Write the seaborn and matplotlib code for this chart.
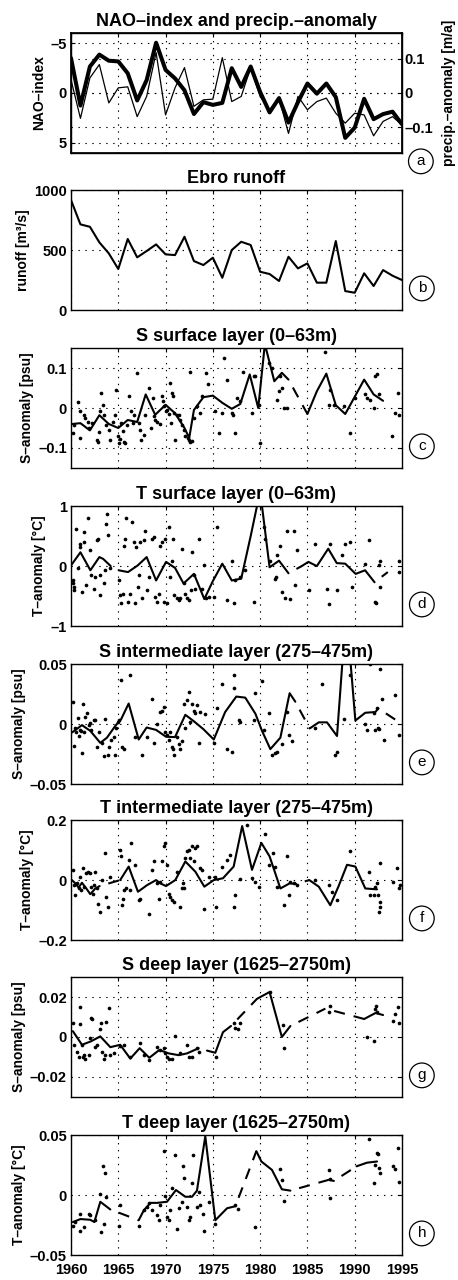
import numpy as np
import pandas as pd
import matplotlib
matplotlib.use("Agg")
import matplotlib.pyplot as plt
import seaborn as sns

# ---------------------------------------------------------------- data
years = list(range(1960, 1996))

nao_index = [-3.5, 1.26, -2.65, -3.84, -3.23, -3.16, -1.97, 0.75, -1.29, -5.03,
             -2.31, -1.46, -0.27, 2.10, 0.92, 1.19, 0.99, -2.48, -0.61, -2.65,
             -0.10, 1.94, 0.51, 2.96, 0.92, -0.95, 0.07, -0.95, 0.41, 4.49,
             3.47, 0.58, 2.62, 2.11, 1.87, 3.13]

precip_anomaly = [0.039, -0.074, 0.044, 0.083, -0.029, 0.015, 0.018, -0.069, -0.010, 0.118,
                  -0.064, 0.015, 0.074, -0.039, -0.020, -0.018, 0.103, -0.025, -0.010, 0.074,
                  -0.010, -0.049, -0.015, -0.118, -0.010, -0.049, -0.025, -0.015, -0.059, -0.088,
                  -0.059, -0.064, -0.125, -0.083, -0.069, -0.093]

ebro_runoff = [917, 714, 694, 564, 472, 342, 592, 439, 492, 547,
               464, 458, 611, 408, 375, 436, 269, 500, 569, 542,
               319, 300, 242, 444, 347, 389, 228, 228, 575, 158,
               144, 306, 200, 333, 286, 250]

# layer means (time, value); NaN value = no data, no connection
s_surf_mean = [(1960.1, -0.040), (1961.0, -0.038), (1962.0, -0.056), (1963.0, -0.018),
               (1964.0, -0.040), (1965.0, -0.050), (1966.0, -0.030), (1967.0, -0.035),
               (1967.9, 0.034), (1968.9, -0.017), (1970.0, 0.008), (1971.0, -0.013),
               (1972.0, -0.050), (1972.5, -0.075), (1973.0, -0.005), (1974.0, 0.027),
               (1975.0, 0.031), (1976.0, 0.013), (1977.0, -0.002), (1977.9, 0.010),
               (1978.9, 0.084), (1979.8, 0.000), (1980.5, 0.160), (1981.5, 0.067),
               (1982.3, 0.088), (1983.0, 0.071), (1985.0, -0.015), (1986.0, 0.042),
               (1987.0, 0.086), (1988.0, 0.007), (1989.0, -0.015), (1990.0, 0.028),
               (1991.0, 0.071), (1992.0, 0.034), (1993.0, 0.018)]

s_surf_obs = [(1960.2, -0.063), (1960.35, -0.042), (1960.74, 0.015), (1960.9, -0.008), (1961.0, -0.074),
              (1961.4, -0.017), (1961.5, -0.025), (1961.76, -0.036), (1961.87, -0.050), (1962.2, -0.038),
              (1962.75, -0.080), (1962.85, -0.084), (1963.0, -0.059), (1963.1, -0.008), (1963.2, 0.038),
              (1963.35, 0.008), (1963.5, -0.017), (1963.7, -0.042), (1964.0, -0.055), (1964.16, -0.080),
              (1964.4, -0.034), (1964.7, -0.017), (1964.8, 0.044), (1964.93, -0.071), (1965.04, -0.088),
              (1965.15, -0.077), (1965.3, -0.038), (1965.46, -0.057), (1965.64, -0.084), (1965.75, -0.088),
              (1965.92, -0.042), (1966.17, 0.029), (1966.38, -0.008), (1966.56, -0.038), (1966.7, -0.017),
              (1966.98, 0.088), (1967.16, -0.038), (1967.33, -0.055), (1967.44, -0.080), (1967.68, -0.067),
              (1967.86, -0.017), (1968.2, 0.050), (1968.46, -0.050), (1968.64, 0.025), (1968.74, -0.021),
              (1968.92, -0.029), (1969.1, -0.034), (1969.45, -0.040), (1969.62, 0.029), (1969.7, 0.017),
              (1969.8, 0.004), (1970.05, -0.008), (1970.15, -0.004), (1970.33, -0.015), (1970.5, 0.063),
              (1970.6, -0.038), (1970.68, 0.038), (1970.79, 0.029), (1970.86, -0.013), (1971.03, -0.080),
              (1971.2, -0.017), (1971.39, -0.017), (1971.56, -0.029), (1971.74, -0.042), (1971.9, -0.055),
              (1972.09, -0.071), (1972.34, -0.076), (1972.44, -0.080), (1972.55, 0.091), (1972.62, -0.084),
              (1972.8, -0.082), (1973.04, -0.025), (1973.32, 0.004), (1973.68, -0.013), (1973.85, 0.029),
              (1974.3, 0.088), (1974.45, 0.059), (1975.26, -0.008), (1975.6, -0.063), (1975.97, -0.013),
              (1976.2, 0.126), (1976.5, 0.071), (1977.03, -0.013), (1977.13, -0.017), (1977.3, -0.063),
              (1977.55, 0.025), (1977.9, 0.017), (1978.2, 0.090), (1979.14, -0.013), (1979.32, 0.080),
              (1979.5, 0.080), (1979.85, 0.007), (1980.02, -0.088), (1980.9, 0.113), (1981.25, 0.101),
              (1981.78, 0.021), (1981.96, 0.042), (1982.14, 0.080), (1982.3, 0.050), (1982.5, 0.000),
              (1982.84, 0.000), (1986.9, 0.140), (1987.25, 0.008), (1987.42, 0.044), (1987.78, 0.008),
              (1988.83, 0.004), (1989.54, -0.063), (1990.0, 0.025), (1991.12, 0.034), (1991.3, 0.025),
              (1991.65, 0.021), (1992.0, 0.000), (1992.18, 0.080), (1992.36, 0.084), (1992.53, 0.034),
              (1993.94, -0.071), (1994.3, -0.013), (1994.54, 0.038), (1994.65, -0.017)]

t_surf_mean = [(1960.0, 0.01), (1961.0, 0.23), (1962.05, -0.07), (1963.0, 0.15), (1963.4, 0.12),
               (1964.2, 0.0), (1964.6, np.nan), (1965.04, -0.07), (1966.03, -0.10), (1967.05, 0.01),
               (1968.0, 0.15), (1969.0, -0.24), (1970.05, 0.07), (1971.0, -0.03), (1971.9, -0.29),
               (1973.0, -0.13), (1974.1, -0.55), (1975.0, -0.25), (1976.0, 0.04), (1977.0, -0.24),
               (1978.0, -0.21), (1979.0, 0.50), (1980.0, 1.25), (1981.0, -0.02), (1982.0, 0.09),
               (1983.0, -0.12), (1984.4, 0.0), (1985.1, 0.07), (1986.0, 0.0), (1987.2, 0.29),
               (1988.1, 0.05), (1989.0, 0.04), (1990.1, -0.13), (1991.1, -0.07), (1992.1, -0.27),
               (1993.5, -0.10)]

t_surf_obs = [(1960.2, -0.24), (1960.2, -0.29), (1960.28, -0.35), (1960.35, -0.40), (1960.56, 0.62),
              (1960.74, -0.04), (1960.9, 0.31), (1961.0, 0.37), (1961.16, -0.43), (1961.34, 0.40),
              (1961.4, 0.56), (1961.6, -0.32), (1961.76, 0.81), (1962.0, 0.26), (1962.1, -0.15),
              (1962.4, -0.38), (1962.57, -0.18), (1962.75, 0.43), (1962.85, 0.45), (1963.03, -0.49),
              (1963.1, -0.15), (1963.5, -0.29), (1963.6, -0.07), (1963.7, 0.70), (1963.8, 0.87),
              (1963.9, 0.51), (1964.1, -0.04), (1965.04, -0.24), (1965.15, -0.49), (1965.3, -0.62),
              (1965.46, -0.46), (1965.64, 0.34), (1965.75, 0.45), (1965.85, 0.81), (1966.03, -0.60),
              (1966.27, -0.46), (1966.45, 0.73), (1966.63, 0.40), (1966.8, -0.62), (1966.9, 0.31),
              (1967.05, -0.35), (1967.16, -0.15), (1967.33, 0.40), (1967.5, -0.54), (1967.68, 0.43),
              (1967.8, 0.59), (1968.0, -0.40), (1968.2, -0.18), (1968.56, 0.45), (1968.74, 0.48),
              (1968.92, -0.51), (1969.1, -0.60), (1969.27, -0.46), (1969.45, 0.34), (1969.62, 0.40),
              (1969.8, -0.60), (1969.97, 0.45), (1970.15, -0.62), (1970.33, 0.66), (1970.5, -0.18),
              (1970.68, 0.09), (1970.79, 0.45), (1970.93, -0.49), (1971.2, -0.54), (1971.39, -0.57),
              (1971.56, -0.54), (1971.74, 0.29), (1971.9, -0.29), (1972.09, -0.46), (1972.27, -0.54),
              (1972.44, -0.57), (1972.7, -0.40), (1972.8, 0.24), (1973.0, -0.15), (1973.15, -0.38),
              (1973.5, 0.45), (1973.85, -0.38), (1974.1, 0.01), (1974.3, -0.54), (1974.56, -0.51),
              (1975.1, -0.51), (1975.44, 0.65), (1976.5, -0.57), (1977.03, 0.09), (1977.2, -0.62),
              (1977.38, -0.24), (1977.9, -0.18), (1978.43, -0.07), (1979.3, -0.60), (1980.37, 0.66),
              (1980.55, 0.45), (1981.08, 0.09), (1981.6, -0.21), (1981.7, -0.18), (1981.78, 0.18),
              (1982.14, 0.34), (1982.3, -0.43), (1982.66, -0.54), (1982.84, 0.59), (1983.2, -0.55),
              (1983.55, 0.58), (1983.72, -0.32), (1983.9, 0.26), (1985.13, -0.40), (1985.84, 0.37),
              (1987.07, -0.38), (1987.25, -0.64), (1987.42, 0.37), (1988.13, -0.40), (1988.66, 0.18),
              (1989.0, 0.37), (1989.54, 0.40), (1989.7, -0.35), (1991.12, 0.04), (1991.47, 0.43),
              (1992.18, -0.60), (1992.3, -0.62), (1992.53, 0.01), (1992.64, 0.09), (1992.7, -0.35),
              (1994.65, 0.09), (1994.72, -0.10)]

s_int_mean = [(1960.1, -0.0071), (1961.16, -0.0009), (1962.04, -0.0057), (1963.1, -0.0157),
              (1963.8, -0.0114), (1964.7, -0.0014), (1965.3, 0.0040), (1966.1, 0.0171),
              (1967.16, -0.0129), (1968.0, -0.0029), (1969.0, -0.0049), (1970.05, -0.0106),
              (1971.0, -0.0109), (1972.09, 0.0077), (1973.04, 0.0020), (1974.0, -0.0043),
              (1975.1, -0.0129), (1976.3, 0.0100), (1977.48, 0.0229), (1978.43, 0.0220),
              (1979.5, 0.0086), (1980.2, -0.0057), (1981.08, -0.0209), (1982.14, -0.0114),
              (1983.12, 0.0257), (1983.72, 0.0186), (1985.24, -0.0037), (1986.2, 0.0014),
              (1987.07, 0.0014), (1988.13, -0.0100), (1989.1, 0.095), (1990.07, 0.0029),
              (1991.12, 0.0094), (1992.18, 0.0100), (1992.5, 0.0130), (1995.0, 0.0)]

s_int_obs = [(1960.2, 0.0186), (1960.28, -0.0186), (1960.45, -0.003), (1960.56, -0.007), (1960.7, 0.005),
             (1960.8, -0.010), (1960.9, -0.005), (1961.05, -0.006), (1961.16, -0.024), (1961.27, 0.017),
             (1961.4, -0.007), (1961.5, 0.006), (1961.7, 0.009), (1961.87, -0.001), (1962.0, 0.001),
             (1962.1, -0.005), (1962.4, 0.003), (1962.57, 0.003), (1962.8, -0.019), (1963.0, -0.007),
             (1963.28, -0.016), (1963.45, -0.027), (1963.63, 0.004), (1963.9, -0.026), (1964.0, -0.019),
             (1964.23, -0.013), (1964.5, -0.011), (1964.7, -0.026), (1964.8, -0.003), (1964.93, 0.0014),
             (1965.1, 0.003), (1965.3, 0.037), (1965.4, -0.019), (1965.64, -0.021), (1966.27, 0.041),
             (1966.8, -0.011), (1967.5, -0.026), (1968.0, -0.011), (1968.56, 0.021), (1968.8, -0.016),
             (1969.1, 0.0), (1969.45, 0.010), (1969.62, 0.011), (1969.8, 0.014), (1969.97, -0.007),
             (1970.15, -0.009), (1970.33, -0.013), (1970.5, -0.007), (1970.68, -0.019), (1970.79, -0.021),
             (1970.93, -0.026), (1971.2, -0.011), (1971.39, -0.017), (1971.56, -0.021), (1971.74, -0.014),
             (1971.9, 0.017), (1972.09, -0.003), (1972.27, 0.020), (1972.44, 0.027), (1972.62, 0.0014),
             (1972.8, 0.017), (1972.97, 0.011), (1973.15, 0.009), (1973.32, 0.016), (1973.5, -0.016),
             (1973.68, 0.010), (1974.2, 0.008), (1975.1, -0.016), (1975.44, 0.013), (1975.97, 0.033),
             (1976.5, -0.021), (1977.03, -0.023), (1977.2, 0.041), (1977.27, 0.030), (1977.73, 0.003),
             (1977.9, 0.0014), (1979.32, 0.003), (1979.5, 0.026), (1980.2, 0.036), (1980.37, -0.005),
             (1980.9, 0.009), (1981.25, -0.026), (1981.6, -0.024), (1981.78, -0.023), (1982.3, -0.017),
             (1982.84, 0.010), (1983.0, -0.009), (1983.4, -0.014), (1985.84, -0.003), (1986.54, 0.033),
             (1987.95, -0.026), (1988.13, -0.023), (1988.83, 0.004), (1989.54, 0.041), (1991.12, 0.0),
             (1991.3, -0.005), (1991.58, 0.050), (1992.0, 0.009), (1992.18, -0.005), (1992.36, 0.013),
             (1992.46, -0.003), (1992.53, -0.004), (1992.64, 0.046), (1992.9, 0.021), (1993.06, -0.013),
             (1994.3, 0.024), (1994.65, -0.009)]

t_int_mean = [(1960.1, 0.0), (1960.46, -0.011), (1960.8, -0.025), (1961.16, -0.009), (1961.62, -0.028),
              (1962.04, -0.047), (1962.57, -0.028), (1963.03, -0.020), (1965.2, 0.0), (1966.1, 0.045),
              (1967.08, -0.039), (1968.04, -0.017), (1969.0, 0.0), (1969.45, -0.011), (1970.05, -0.020),
              (1971.03, 0.0), (1972.09, 0.062), (1973.15, 0.028), (1974.1, -0.022), (1975.1, 0.0),
              (1976.07, 0.006), (1977.2, 0.045), (1978.1, 0.180), (1979.14, 0.034), (1980.13, 0.124),
              (1981.0, 0.079), (1982.14, -0.028), (1983.12, -0.011), (1983.8, -0.013), (1985.2, 0.0),
              (1986.2, -0.022), (1987.42, -0.084), (1988.3, -0.020), (1989.19, 0.051), (1990.07, 0.045),
              (1991.12, -0.028), (1992.36, -0.031)]

t_int_obs = [(1960.2, 0.034), (1960.28, -0.017), (1960.46, -0.051), (1960.63, -0.011), (1960.8, -0.028),
             (1960.9, 0.011), (1961.05, -0.034), (1961.27, 0.039), (1961.4, -0.022), (1961.62, 0.022),
             (1961.76, 0.028), (1962.0, 0.022), (1962.1, -0.022), (1962.3, -0.045), (1962.47, -0.017),
             (1962.57, 0.028), (1962.75, -0.028), (1962.9, -0.079), (1963.1, -0.107), (1963.28, 0.0),
             (1963.63, 0.090), (1963.73, -0.056), (1963.9, -0.090), (1964.16, 0.009), (1965.2, 0.101),
             (1965.3, 0.079), (1965.4, -0.084), (1965.5, -0.062), (1965.64, -0.034), (1965.85, -0.028),
             (1966.1, 0.067), (1966.27, -0.034), (1966.34, 0.124), (1966.8, 0.051), (1967.16, -0.067),
             (1967.33, -0.062), (1968.2, -0.112), (1968.56, 0.034), (1968.8, 0.062), (1969.1, -0.011),
             (1969.27, -0.062), (1969.45, -0.006), (1969.62, 0.062), (1969.8, 0.112), (1969.97, 0.124),
             (1970.15, 0.051), (1970.33, -0.045), (1970.5, -0.056), (1970.68, -0.067), (1970.86, -0.073),
             (1971.2, 0.028), (1971.56, -0.090), (1971.74, -0.028), (1971.84, -0.011), (1971.9, -0.028),
             (1972.09, 0.073), (1972.27, 0.096), (1972.44, 0.101), (1972.62, 0.073), (1972.8, 0.112),
             (1972.97, 0.062), (1973.15, 0.107), (1973.32, 0.112), (1973.68, 0.039), (1973.85, 0.034),
             (1974.03, -0.096), (1974.56, 0.011), (1975.26, 0.011), (1975.37, -0.090), (1975.97, 0.045),
             (1976.5, 0.067), (1976.85, 0.084), (1977.2, -0.090), (1977.38, -0.051), (1977.9, 0.003),
             (1978.6, 0.182), (1979.14, 0.006), (1979.5, -0.006), (1979.85, -0.022), (1980.55, 0.152),
             (1980.9, 0.051), (1981.36, 0.090), (1981.6, 0.045), (1981.78, -0.022), (1982.5, -0.084),
             (1982.84, 0.079), (1983.0, -0.051), (1983.2, -0.006), (1983.55, -0.011), (1983.9, -0.017),
             (1985.84, 0.0), (1987.25, -0.017), (1987.6, -0.039), (1988.13, -0.067), (1989.54, 0.096),
             (1991.47, 0.028), (1991.65, -0.051), (1992.0, -0.051), (1992.18, -0.022), (1992.36, -0.011),
             (1992.43, -0.051), (1992.53, -0.107), (1992.64, -0.090), (1992.7, -0.073), (1992.7, 0.058),
             (1994.0, -0.006), (1994.45, 0.039), (1994.65, -0.028), (1994.75, -0.017)]

s_deep_mean = [(1960.2, 0.0029), (1961.16, -0.0039), (1962.1, -0.0022), (1963.1, 0.0003),
               (1964.16, -0.0051), (1965.2, -0.0039), (1966.27, -0.0108), (1967.26, -0.0056),
               (1968.28, -0.0104), (1969.34, -0.0065), (1970.33, -0.0082), (1971.39, -0.0091),
               (1972.27, -0.0082), (1973.5, -0.0056), (1973.9, np.nan), (1974.38, -0.0068),
               (1975.26, -0.0079), (1976.07, 0.0024), (1976.92, 0.0055), (1979.67, 0.0191),
               (1981.0, 0.0225), (1982.3, 0.0), (1983.2, 0.0055), (1986.9, 0.0142),
               (1991.0, 0.0090), (1992.2, 0.0120), (1993.0, 0.0110)]

s_deep_obs = [(1960.2, 0.0072), (1960.35, -0.0039), (1960.63, -0.0074), (1960.8, -0.0099), (1960.9, 0.0063),
              (1961.0, 0.0149), (1961.16, -0.0039), (1961.27, -0.0099), (1961.4, -0.0091), (1961.5, -0.0108),
              (1961.87, -0.0091), (1962.0, -0.0005), (1962.1, 0.0097), (1962.2, 0.0089), (1962.57, -0.0051),
              (1962.75, -0.0039), (1963.1, 0.0038), (1963.2, 0.0072), (1963.28, -0.0074), (1963.45, -0.0108),
              (1963.56, -0.0091), (1963.73, 0.0077), (1964.0, 0.0144), (1964.16, -0.0091), (1964.5, -0.0082),
              (1965.2, -0.0044), (1965.57, -0.0039), (1966.27, -0.0099), (1967.26, -0.0031), (1967.7, -0.0091),
              (1968.2, -0.0116), (1969.1, -0.0048), (1969.38, -0.0065), (1969.8, -0.0056), (1969.97, -0.0082),
              (1970.15, -0.0099), (1970.33, -0.0108), (1970.68, -0.0108), (1971.03, 0.0007), (1971.56, -0.0082),
              (1972.27, -0.0039), (1972.44, -0.0099), (1972.8, -0.0099), (1973.32, -0.0056), (1973.5, -0.0074),
              (1975.37, -0.0099), (1977.2, 0.0072), (1977.38, 0.0046), (1977.62, 0.0038), (1977.83, 0.0072),
              (1981.0, 0.0226), (1982.4, 0.0058), (1982.5, -0.0056), (1987.25, 0.0123), (1987.35, 0.0157),
              (1991.3, 0.0), (1992.0, -0.0022), (1992.18, 0.0140), (1992.3, 0.0157), (1992.36, 0.0126),
              (1994.1, 0.0080), (1994.3, 0.0114), (1994.54, 0.0149), (1994.65, 0.0072)]

t_deep_mean = [(1960.2, -0.0225), (1961.0, -0.0200), (1962.04, -0.0206), (1962.47, -0.0225),
               (1963.1, -0.0056), (1964.16, -0.0120), (1967.16, -0.0210), (1967.7, -0.0127),
               (1968.4, -0.0065), (1969.1, -0.0065), (1970.15, -0.0056), (1971.1, 0.0042),
               (1972.09, -0.0014), (1972.8, -0.0014), (1973.32, 0.0037), (1974.2, 0.0490),
               (1975.26, -0.0210), (1976.5, -0.0110), (1977.38, -0.0093), (1979.6, 0.0366),
               (1980.13, 0.0280), (1981.25, 0.0210), (1982.3, 0.0048), (1983.2, 0.0037),
               (1987.25, 0.0127), (1987.8, 0.0118), (1990.2, 0.0240), (1991.3, 0.0270),
               (1992.36, 0.0280)]

t_deep_obs = [(1960.2, -0.026), (1960.46, -0.0225), (1960.9, -0.030), (1961.0, -0.016), (1961.34, -0.027),
              (1961.87, -0.016), (1962.0, -0.017), (1962.57, -0.021), (1963.1, 0.0008), (1963.2, -0.031),
              (1963.38, 0.024), (1963.5, -0.024), (1963.63, 0.018), (1963.73, -0.002), (1965.04, -0.026),
              (1965.2, -0.0085), (1967.16, -0.026), (1967.7, -0.0127), (1968.0, -0.0099), (1968.2, -0.0065),
              (1968.56, -0.0127), (1969.1, -0.017), (1969.27, -0.021), (1969.45, -0.0085), (1969.8, 0.0366),
              (1969.97, -0.0008), (1970.15, -0.0183), (1970.33, -0.021), (1970.43, -0.0127), (1970.68, 0.0056),
              (1971.03, 0.0338), (1971.2, -0.028), (1971.39, -0.0104), (1971.74, -0.0056), (1971.84, 0.024),
              (1971.98, 0.014), (1972.27, -0.0099), (1972.44, -0.021), (1972.62, -0.0183), (1972.8, 0.0099),
              (1972.9, 0.0338), (1973.32, -0.0099), (1973.5, 0.0028), (1973.68, -0.0085), (1973.96, -0.0155),
              (1974.1, -0.030), (1974.56, -0.0056), (1975.26, -0.024), (1977.38, -0.0085), (1977.62, -0.012),
              (1979.5, -0.027), (1982.05, 0.0217), (1982.3, 0.0127), (1982.5, -0.005), (1987.25, 0.0206),
              (1987.35, 0.0132), (1987.42, -0.0023), (1991.47, 0.047), (1992.07, 0.0099), (1992.18, 0.0254),
              (1992.36, 0.035), (1992.46, 0.0344), (1992.53, 0.0225), (1992.7, 0.0183), (1994.1, 0.024),
              (1994.3, 0.0217), (1994.54, 0.039), (1994.65, 0.011)]

x_ticks = [1960, 1965, 1970, 1975, 1980, 1985, 1990, 1995]
x_tick_labels = ["1960", "1965", "1970", "1975", "1980", "1985", "1990", "1995"]

# ---------------------------------------------------------------- style
sns.set_theme(style="white")
plt.rcParams.update({
    "font.family": ["Liberation Sans", "DejaVu Sans"],
    "font.weight": "bold",
    "axes.titleweight": "bold",
    "axes.labelweight": "bold",
    "axes.edgecolor": "black",
    "axes.labelcolor": "black",
    "text.color": "black",
    "xtick.color": "black",
    "ytick.color": "black",
    "lines.scale_dashes": False,
    "lines.solid_joinstyle": "round",
})

GAP_YEARS = 1.35          # longer gaps between means are bridged by a dashed line
DASH_ON, DASH_OFF = 8.0, 6.5
GRID_STYLE = (0, (1.0, 4.0))
TICK_SIZE = 10.5
LABEL_SIZE = 10
TITLE_SIZE = 13

fig = plt.figure(figsize=(4.58, 12.8), dpi=100)
LEFT, WIDTH, HEIGHT = 0.155, 0.7227, 0.0937
bottoms = [0.8805, 0.7578, 0.6344, 0.5109, 0.3875, 0.2656, 0.1430, 0.0195]
axes = [fig.add_axes([LEFT, b, WIDTH, HEIGHT]) for b in bottoms]


def style_axis(ax, ylim, yticks, ylabels, ylabel, title, show_x=False, right=True):
    ax.set_xlim(1960, 1995)
    ax.set_ylim(*ylim)
    ax.set_xticks(x_ticks)
    ax.set_xticklabels(x_tick_labels if show_x else [])
    ax.set_yticks(yticks)
    ax.set_yticklabels(ylabels)
    ax.grid(True, color="black", linestyle=GRID_STYLE, linewidth=0.8)
    ax.tick_params(direction="in", length=3, width=0.8, labelsize=TICK_SIZE,
                   top=True, right=right, pad=3)
    ax.tick_params(axis="x", pad=6)
    for sp in ax.spines.values():
        sp.set_linewidth(1.0)
        sp.set_color("black")
    ax.set_xlabel("")
    ax.set_ylabel(ylabel, fontsize=LABEL_SIZE, labelpad=3)
    ax.set_title(title, fontsize=TITLE_SIZE, pad=5)


def circle_tag(ax, letter, x=1.06, y=0.18):
    ax.text(x, y, letter, transform=ax.transAxes, ha="center", va="center",
            fontsize=11, fontweight="normal", clip_on=False,
            bbox=dict(boxstyle="circle,pad=0.35", fc="white", ec="black", lw=0.9))


def split_segments(pairs):
    solid, dashed = [], []
    run_id, dash_id, prev = 0, 0, None
    for t, v in pairs:
        if np.isnan(v):
            prev, run_id = None, run_id + 1
            continue
        if prev is not None and t - prev[0] > GAP_YEARS:
            dashed += [(dash_id, prev[0], prev[1]), (dash_id, t, v)]
            dash_id += 1
            run_id += 1
        solid.append((run_id, t, v))
        prev = (t, v)
    cols = ["seg", "t", "v"]
    return pd.DataFrame(solid, columns=cols), pd.DataFrame(dashed, columns=cols)


def layer_panel(ax, mean_pairs, obs_pairs):
    obs = pd.DataFrame(obs_pairs, columns=["t", "v"])
    sns.scatterplot(data=obs, x="t", y="v", s=7, color="black", linewidth=0,
                    ax=ax, legend=False, zorder=3)
    solid, dashed = split_segments(mean_pairs)
    sns.lineplot(data=solid, x="t", y="v", units="seg", estimator=None, sort=False,
                 color="black", lw=1.5, ax=ax, legend=False, zorder=4)
    if len(dashed):
        sns.lineplot(data=dashed, x="t", y="v", units="seg", estimator=None, sort=False,
                     color="black", lw=1.5, ax=ax, legend=False, zorder=4,
                     linestyle=(DASH_ON, (DASH_ON, DASH_OFF)))


# (a) NAO index (reversed axis) and precipitation anomaly
ax = axes[0]
sns.lineplot(x=years, y=nao_index, ax=ax, color="black", lw=2.9)
style_axis(ax, (6, -6), [-5, 0, 5], ["\u20135", "0", "5"], "NAO\u2013index",
           "NAO\u2013index and precip.\u2013anomaly", right=False)
ax2 = ax.twinx()
sns.lineplot(x=years, y=precip_anomaly, ax=ax2, color="black", lw=0.9)
ax2.set_ylim(-0.175, 0.175)
ax2.set_yticks([-0.1, 0, 0.1])
ax2.set_yticklabels(["\u20130.1", "0", "0.1"])
ax2.grid(True, axis="y", color="black", linestyle=GRID_STYLE, linewidth=0.8)
ax2.tick_params(direction="in", length=3, width=0.8, labelsize=TICK_SIZE, pad=1.5)
ax2.set_ylabel("precip.\u2013anomaly [m/a]", fontsize=LABEL_SIZE, labelpad=7)
circle_tag(ax, "a", x=1.057, y=-0.07)

# (b) Ebro runoff
ax = axes[1]
sns.lineplot(x=years, y=ebro_runoff, ax=ax, color="black", lw=1.5)
style_axis(ax, (0, 1000), [0, 500, 1000], ["0", "500", "1000"],
           "runoff [m\u00b3/s]", "Ebro runoff")
circle_tag(ax, "b")

panels = [
    (s_surf_mean, s_surf_obs, (-0.15, 0.15), [-0.1, 0, 0.1], ["\u20130.1", "0", "0.1"],
     "S\u2013anomaly [psu]", "S surface layer (0\u201363m)", "c"),
    (t_surf_mean, t_surf_obs, (-1, 1), [-1, 0, 1], ["\u20131", "0", "1"],
     "T\u2013anomaly [\u00b0C]", "T surface layer (0\u201363m)", "d"),
    (s_int_mean, s_int_obs, (-0.05, 0.05), [-0.05, 0, 0.05], ["\u20130.05", "0", "0.05"],
     "S\u2013anomaly [psu]", "S intermediate layer (275\u2013475m)", "e"),
    (t_int_mean, t_int_obs, (-0.2, 0.2), [-0.2, 0, 0.2], ["\u20130.2", "0", "0.2"],
     "T\u2013anomaly [\u00b0C]", "T intermediate layer (275\u2013475m)", "f"),
    (s_deep_mean, s_deep_obs, (-0.03, 0.03), [-0.02, 0, 0.02], ["\u20130.02", "0", "0.02"],
     "S\u2013anomaly [psu]", "S deep layer (1625\u20132750m)", "g"),
    (t_deep_mean, t_deep_obs, (-0.05, 0.05), [-0.05, 0, 0.05], ["\u20130.05", "0", "0.05"],
     "T\u2013anomaly [\u00b0C]", "T deep layer (1625\u20132750m)", "h"),
]

for i, (mean_pairs, obs_pairs, ylim, yt, yl, ylab, title, tag) in enumerate(panels):
    ax = axes[i + 2]
    layer_panel(ax, mean_pairs, obs_pairs)
    style_axis(ax, ylim, yt, yl, ylab, title, show_x=(tag == "h"))
    circle_tag(ax, tag)

fig.savefig("out.png", dpi=100)
